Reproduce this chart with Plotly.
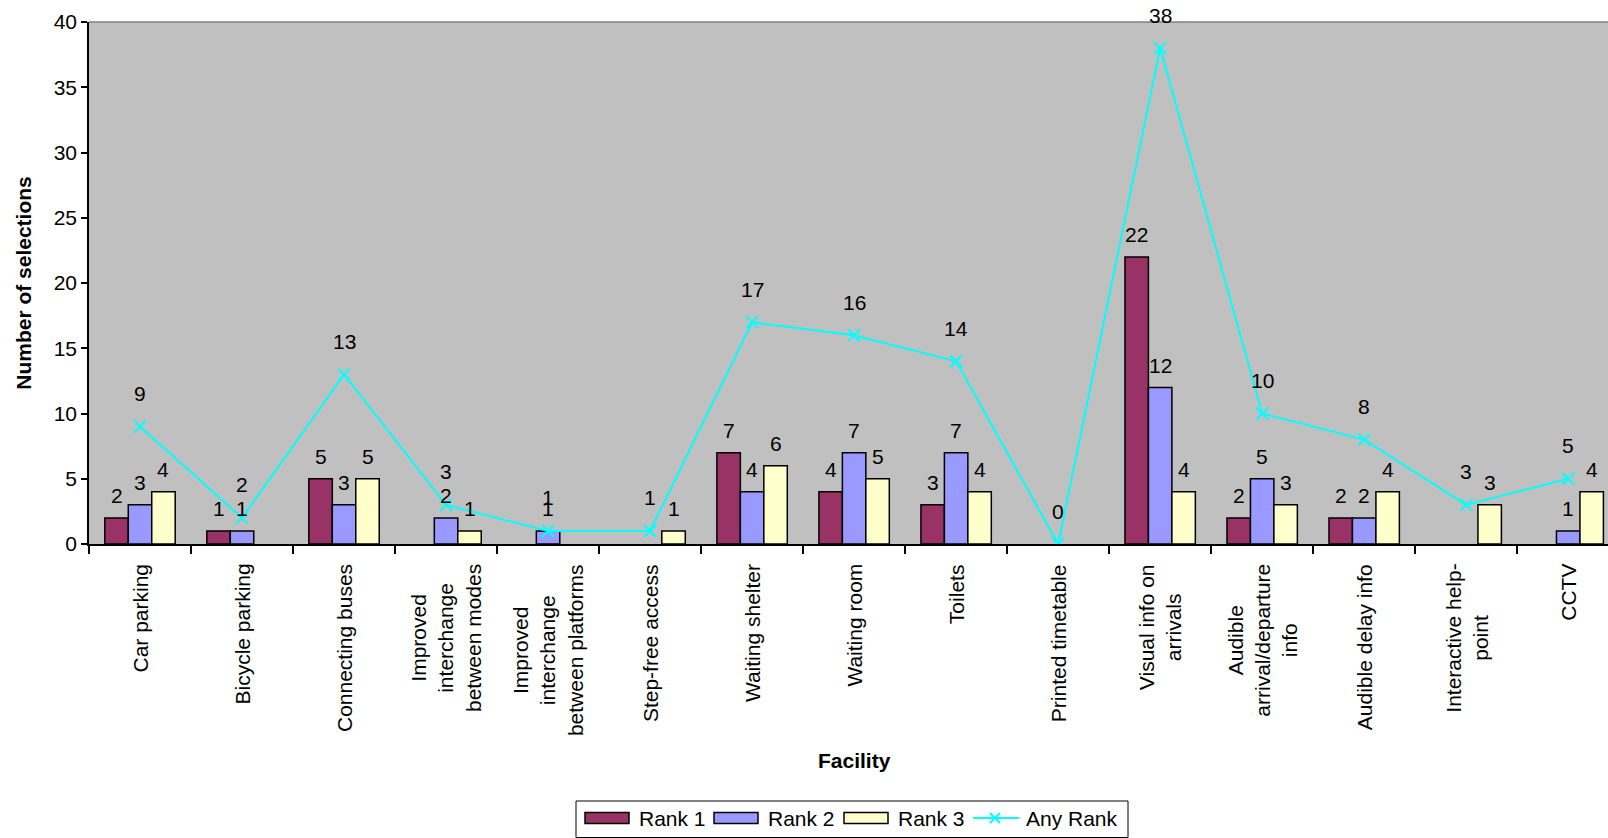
import plotly.graph_objects as go

categories = ["Car parking", "Bicycle parking", "Connecting buses",
              "Improved<br>interchange<br>between modes",
              "Improved<br>interchange<br>between platforms",
              "Step-free access", "Waiting shelter", "Waiting room", "Toilets",
              "Printed timetable", "Visual info on<br>arrivals",
              "Audible<br>arrival/departure<br>info", "Audible delay info",
              "Interactive help-<br>point", "CCTV"]
rank1 = [2, 1, 5, 0, 0, 0, 7, 4, 3, 0, 22, 2, 2, 0, 0]
rank2 = [3, 1, 3, 2, 1, 0, 4, 7, 7, 0, 12, 5, 2, 0, 1]
rank3 = [4, 0, 5, 1, 0, 1, 6, 5, 4, 0, 4, 3, 4, 3, 4]
any_rank = [9, 2, 13, 3, 1, 1, 17, 16, 14, 0, 38, 10, 8, 3, 5]
series_names = ["Rank 1", "Rank 2", "Rank 3", "Any Rank"]

FONT = "Liberation Sans, Arial, sans-serif"
W, H = 1608, 838
ML, MT, MB = 89, 22, 294
BARGAP = 0.31
COLORS = ["#993366", "#9999FF", "#FFFFCC"]
LINE_COLOR = "#00FFFF"
idx = list(range(len(categories)))
plot_w = W - ML
plot_h = H - MT - MB


def px(xp):
    return (xp - ML) / plot_w


def py(yp):
    return (H - MB - yp) / plot_h


fig = go.Figure()
series = list(zip(series_names[:3], [rank1, rank2, rank3], COLORS))
for name, vals, col in series:
    fig.add_trace(go.Bar(x=idx, y=[v if v else None for v in vals], name=name, showlegend=False,
                         marker=dict(color=col, line=dict(color="black", width=1.5))))
fig.add_trace(go.Scatter(x=idx, y=any_rank, name=series_names[3], mode="lines+markers", showlegend=False,
                         line=dict(color=LINE_COLOR, width=2),
                         marker=dict(symbol="x-thin", size=12, line=dict(color=LINE_COLOR, width=2))))

ann = []
bw = (1 - BARGAP) / 3
for k, (name, vals, col) in enumerate(series):
    for i, v in enumerate(vals):
        if v > 0:
            ann.append(dict(x=i + (k - 1) * bw, y=v, xref="x", yref="y", text=str(v), showarrow=False,
                            yanchor="middle", yshift=22, font=dict(size=21, color="black", family=FONT)))
for i, v in enumerate(any_rank):
    ann.append(dict(x=i, y=v, xref="x", yref="y", text=str(v), showarrow=False,
                    yanchor="middle", yshift=33, font=dict(size=21, color="black", family=FONT)))
for i, c in enumerate(categories):
    ann.append(dict(x=i, y=0, xref="x", yref="y", text=c, showarrow=False, textangle=-90,
                    xanchor="center", yanchor="top", yshift=-18, align="center",
                    font=dict(size=21, color="black", family=FONT)))
ann.append(dict(x=px(854), xref="paper", y=py(760), yref="paper", text="<b>Facility</b>", showarrow=False,
                yanchor="middle", font=dict(size=21, color="black", family=FONT)))

# custom legend (Excel-style wide swatches)
shapes = [dict(type="line", xref="paper", yref="paper", x0=0, x1=1, y0=1, y1=1,
               line=dict(color="#808080", width=1.5)),
          dict(type="rect", xref="paper", yref="paper", x0=px(576), x1=px(1128), y0=py(801), y1=py(837.5),
               fillcolor="white", line=dict(color="black", width=1))]
leg_y = 818
swatches = [(585, 629, 637), (714, 758, 766), (844, 888, 896)]
for (x0, x1, tx), name, col in zip(swatches, series_names[:3], COLORS):
    shapes.append(dict(type="rect", xref="paper", yref="paper", x0=px(x0), x1=px(x1),
                       y0=py(leg_y + 5.5), y1=py(leg_y - 5.5), fillcolor=col,
                       line=dict(color="black", width=1.5)))
    ann.append(dict(x=px(tx), y=py(leg_y), xref="paper", yref="paper", text=name, showarrow=False,
                    xanchor="left", yanchor="middle", font=dict(size=21, color="black", family=FONT)))
shapes.append(dict(type="line", xref="paper", yref="paper", x0=px(973), x1=px(1019), y0=py(leg_y), y1=py(leg_y),
                   line=dict(color=LINE_COLOR, width=2)))
for d in (1, -1):
    shapes.append(dict(type="line", xref="paper", yref="paper", x0=px(990), x1=px(1000),
                       y0=py(leg_y - 5 * d), y1=py(leg_y + 5 * d), line=dict(color=LINE_COLOR, width=2)))
ann.append(dict(x=px(1024), y=py(leg_y), xref="paper", yref="paper", text=series_names[3], showarrow=False,
                xanchor="left", yanchor="middle", font=dict(size=21, color="black", family=FONT)))

fig.update_layout(
    width=W, height=H,
    margin=dict(l=ML, r=0, t=MT, b=MB, pad=0),
    paper_bgcolor="white", plot_bgcolor="#C0C0C0",
    barmode="group", bargap=BARGAP, bargroupgap=0,
    font=dict(family=FONT, size=21, color="black"),
    annotations=ann,
    shapes=shapes,
    showlegend=False,
    xaxis=dict(type="linear", range=[-0.5, 14.39], showticklabels=False, showgrid=False, zeroline=False,
               showline=True, linecolor="black", linewidth=1.5,
               tickmode="array", tickvals=[i - 0.5 for i in range(16)], ticks="outside", ticklen=8,
               tickcolor="black", tickwidth=1.5),
    yaxis=dict(range=[0, 40], dtick=5, showgrid=False, zeroline=False,
               showline=True, linecolor="black", linewidth=1.5,
               ticks="outside", ticklen=6, tickcolor="black", tickwidth=1.5,
               tickfont=dict(size=21, family=FONT),
               title=dict(text="<b>Number of selections</b>", font=dict(size=21, family=FONT), standoff=16)),
)
fig.write_html("out.html")
